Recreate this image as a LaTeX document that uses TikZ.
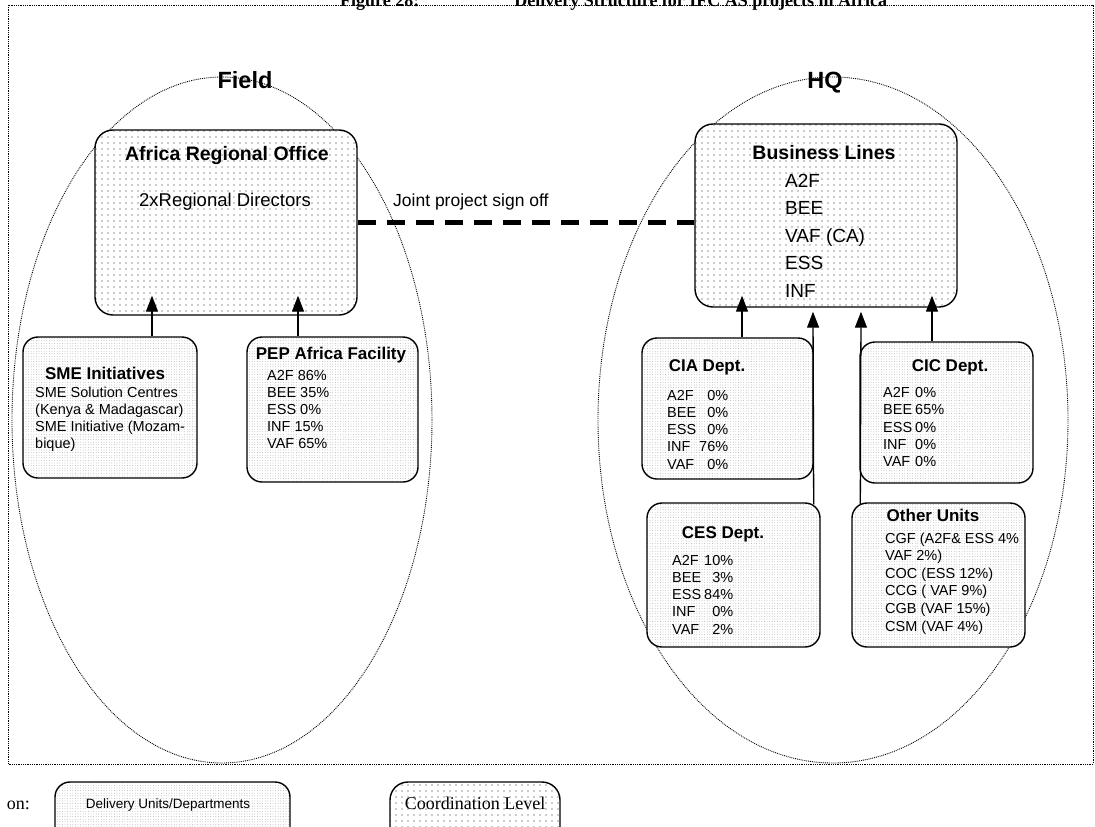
\documentclass[tikz,border=0pt]{standalone}
\usepackage{fontspec}
\setmainfont{Liberation Serif}
\setsansfont{Liberation Sans}
\usetikzlibrary{arrows.meta, patterns.meta, calc, shapes.geometric}

\newcommand{\fsize}[2]{\fontsize{#1}{#2}\selectfont}
\newcommand{\lignes}[1]{\begin{tabular}[t]{@{}l@{}}#1\end{tabular}}
\newcommand{\taux}[2]{\begin{tabular}[t]{@{}l@{\hspace{3pt}}#1@{}}#2\end{tabular}}

\begin{document}
\begin{tikzpicture}[
        x=1pt, y=-1pt,
        zone/.style={
            ellipse,
            draw,
            densely dotted,
            line width=0.9pt,
            inner sep=0pt,
            minimum height=686pt
        },
        bloc/.style={
            draw,
            line width=1.4pt,
            inner sep=0pt,
            rounded corners=15pt,
            preaction={fill=white}
        },
        unite/.style={bloc, pattern={Dots[distance=2.6pt, radius=0.35pt]}, pattern color=black!45},
        coord/.style={bloc, rounded corners=18pt, pattern={Dots[distance=6pt, radius=0.6pt]}, pattern color=black!85},
        titre/.style={font=\sffamily\bfseries\fsize{17}{20}, anchor=base, inner sep=0pt},
        grandtitre/.style={titre, font=\sffamily\bfseries\fsize{19.5}{22}},
        liste/.style={font=\sffamily\fsize{14.5}{17.3}, anchor=base west, inner sep=0pt},
        fleche/.style={-{Triangle[length=16pt, width=12pt]}, line width=1.3pt},
        lien/.style={line width=4.5pt, dash pattern=on 18pt off 11pt}
    ]

        \useasboundingbox (0,0) rectangle (1095,827);

        % Titre (coupé en haut) et cadre
        \node[font=\rmfamily\bfseries\fsize{18}{20}, anchor=base west, inner sep=0pt]
            (legende) at (340,6) {Figure 28:\hspace{95pt}Delivery Structure for IFC AS projects in Africa};
        \draw[densely dotted, line width=0.8pt] (8,5) rectangle (1093,764);

        % Zones terrain et siège
        \node[zone, minimum width=420pt] (champ) at (222,420) {};
        \node[zone, minimum width=470pt] (siege) at (833,420) {};
        \node[titre, font=\sffamily\bfseries\fsize{23.5}{26}] (champT) at (245,88.5) {Field};
        \node[titre, font=\sffamily\bfseries\fsize{23.5}{26}] (siegeT) at (825,88.5) {HQ};

        % Niveau de coordination
        \node[coord, minimum width=262pt, minimum height=185pt] (bureau) at (226,222.5) {};
        \node[grandtitre] (bureauT) at (227,160) {Africa Regional Office};
        \node[titre, font=\sffamily\fsize{18.5}{22}] (bureauD) at (225,206.5) {2xRegional Directors};

        \node[coord, minimum width=262pt, minimum height=183pt] (metiers) at (826,215.5) {};
        \node[grandtitre] (metiersT) at (824,159) {Business Lines};
        \node[liste, font=\sffamily\fsize{19}{27.5}] (metiersL) at (785,187)
            {\lignes{A2F\\BEE\\VAF (CA)\\ESS\\INF}};

        % Unités de terrain
        \node[unite, minimum width=174pt, minimum height=141pt] (sme) at (110,407.5) {};
        \node[titre] (smeT) at (105,379) {SME Initiatives};
        \node[liste, font=\sffamily\fsize{14.5}{17}] (smeL) at (35,397)
            {\lignes{SME Solution Centres\\(Kenya \& Madagascar)\\SME Initiative (Mozam-\\bique)}};

        \node[unite, minimum width=171pt, minimum height=145pt] (pep) at (332.5,409.5) {};
        \node[titre] (pepT) at (331,359) {PEP Africa Facility};
        \node[liste, font=\sffamily\fsize{14.5}{17}] (pepL) at (267,380)
            {\lignes{A2F 86\%\\BEE 35\%\\ESS 0\%\\INF 15\%\\VAF 65\%}};

        % Départements du siège
        \node[unite, minimum width=171pt, minimum height=141pt] (cia) at (727.5,408.5) {};
        \node[titre] (ciaT) at (707,371) {CIA Dept.};
        \node[liste] (ciaL) at (667,400)
            {\taux{r}{A2F & 0\%\\BEE & 0\%\\ESS & 0\%\\INF & 76\%\\VAF & 0\%}};

        \node[unite, minimum width=173pt, minimum height=141pt] (cic) at (946.5,412.5) {};
        \node[titre] (cicT) at (950,371) {CIC Dept.};
        \node[liste] (cicL) at (883,397.5)
            {\taux{l}{A2F & 0\%\\BEE & 65\%\\ESS & 0\%\\INF & 0\%\\VAF & 0\%}};

        \node[unite, minimum width=173pt, minimum height=144pt] (ces) at (733.5,575) {};
        \node[titre] (cesT) at (723,538) {CES Dept.};
        \node[liste] (cesL) at (672,565)
            {\taux{r}{A2F & 10\%\\BEE & 3\%\\ESS & 84\%\\INF & 0\%\\VAF & 2\%}};

        \node[unite, minimum width=173pt, minimum height=144pt] (autres) at (938.5,575) {};
        \node[titre] (autresT) at (933,521) {Other Units};
        \node[liste, font=\sffamily\fsize{14.5}{17.6}] (autresL) at (885,543)
            {\lignes{CGF (A2F\& ESS 4\%\\VAF 2\%)\\COC (ESS 12\%)\\CCG ( VAF 9\%)\\CGB (VAF 15\%)\\CSM (VAF 4\%)}};

        % Remontées vers la coordination
        \draw[fleche] ([xshift=42pt]sme.north) -- ([xshift=-74pt, yshift=20pt]bureau.south);
        \draw[fleche] ([xshift=-34.5pt]pep.north) -- ([xshift=72pt, yshift=20pt]bureau.south);
        \draw[fleche] ([xshift=14.5pt]cia.north) -- ([xshift=-84pt, yshift=12pt]metiers.south);
        \draw[fleche] ([xshift=-14.5pt]cic.north) -- ([xshift=106pt, yshift=12pt]metiers.south);
        \draw[fleche] ([xshift=-7pt, yshift=-2pt]ces.north east) -- ([xshift=-13pt, yshift=-4pt]metiers.south);
        \draw[fleche] ([xshift=9pt, yshift=-2pt]autres.north west) -- ([xshift=35pt, yshift=-4pt]metiers.south);

        % Validation conjointe
        \draw[lien] (bureau.east) -- (bureau.east -| metiers.west);
        \node[font=\sffamily\fsize{17.5}{20}, anchor=base west, inner sep=0pt] (signature) at (393,206)
            {Joint project sign off};

        % Légende
        \node[font=\rmfamily\fsize{18}{20}, anchor=base east, inner sep=0pt] (legT) at (30,809) {on:};
        \node[unite, minimum width=235pt, minimum height=63pt] (legU) at (172.5,813.5) {};
        \node[titre, font=\sffamily\fsize{13.5}{16}] (legUT) at (168,808) {Delivery Units/Departments};
        \node[coord, minimum width=170pt, minimum height=63pt] (legC) at (475,813.5) {};
        \node[titre, font=\rmfamily\fsize{18}{20}] (legCT) at (475,809) {Coordination Level};

    \end{tikzpicture}
\end{document}
